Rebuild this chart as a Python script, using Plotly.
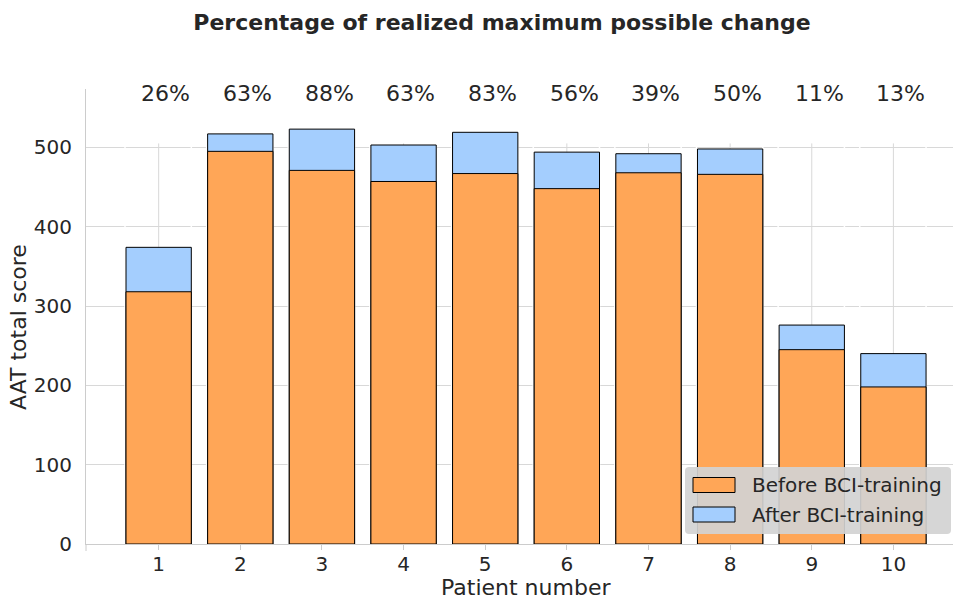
import plotly.graph_objects as go

# AAT total scores per patient, before and after BCI training
patients = [1, 2, 3, 4, 5, 6, 7, 8, 9, 10]
before_scores = [318, 495, 471, 457, 467, 448, 468, 466, 245, 198]
after_scores = [374, 517, 523, 503, 519, 494, 492, 498, 276, 240]
realized_change = ["26%", "63%", "88%", "63%", "83%", "56%", "39%", "50%", "11%", "13%"]

ORANGE = "#ffa657"
BLUE = "#a4cefe"
TEXT = "#262626"
GRID = "#d8d8d8"
SPINE = "#cccccc"
FONT = "DejaVu Sans"
BAR_WIDTH = 0.8

W, H = 953, 600
L, R, T, B = 86, 0, 89, 56
PW, PH = W - L - R, H - T - B


def px(x):
    return (x - L) / PW


def py(y):
    return (H - B - y) / PH


fig = go.Figure()
fig.add_trace(go.Bar(
    x=patients, y=after_scores, name="After BCI-training", width=BAR_WIDTH,
    marker=dict(color=BLUE, line=dict(color="black", width=1)),
))
fig.add_trace(go.Bar(
    x=patients, y=before_scores, name="Before BCI-training", width=BAR_WIDTH,
    marker=dict(color=ORANGE, line=dict(color="black", width=1)),
))

shapes = []
# vertical grid lines, stopping a little above the 500 line
for p in patients:
    shapes.append(dict(type="line", xref="x", yref="y", x0=p, x1=p, y0=0, y1=505,
                       line=dict(color=GRID, width=1), layer="between"))
# thin white bar-edge lines cutting through the horizontal grid
for p in patients:
    for edge in (p - BAR_WIDTH / 2 - 0.012, p + BAR_WIDTH / 2):
        shapes.append(dict(type="line", xref="x", yref="y", x0=edge, x1=edge, y0=0, y1=505,
                           line=dict(color="white", width=1.5), layer="between"))
# small extension of the left spine below the x axis
shapes.append(dict(type="line", xref="paper", yref="paper", x0=0, x1=0, y0=0, y1=-7 / PH,
                   line=dict(color=SPINE, width=1)))

# legend box with rounded corners
lx0, lx1, ly0, ly1 = 685, 951, 467, 534
hw, hh, r = (lx1 - lx0) / 2, (ly1 - ly0) / 2, 4
path = (f"M {-hw + r},{-hh} L {hw - r},{-hh} Q {hw},{-hh} {hw},{-hh + r} "
        f"L {hw},{hh - r} Q {hw},{hh} {hw - r},{hh} L {-hw + r},{hh} "
        f"Q {-hw},{hh} {-hw},{hh - r} L {-hw},{-hh + r} Q {-hw},{-hh} {-hw + r},{-hh} Z")
shapes.append(dict(type="path", xref="paper", yref="paper", xsizemode="pixel", ysizemode="pixel",
                   xanchor=px((lx0 + lx1) / 2), yanchor=py((ly0 + ly1) / 2), path=path,
                   fillcolor="rgba(211,211,211,0.92)", line=dict(width=0), layer="above"))
legend_items = [("Before BCI-training", ORANGE, 485), ("After BCI-training", BLUE, 514.5)]
annotations = []
for label, color, yc in legend_items:
    shapes.append(dict(type="rect", xref="paper", yref="paper",
                       x0=px(693), x1=px(735), y0=py(yc + 7.5), y1=py(yc - 7.5),
                       fillcolor=color, line=dict(color="black", width=1), layer="above"))
    annotations.append(dict(text=label, xref="paper", yref="paper", x=px(750), y=py(yc),
                            xanchor="left", yanchor="middle", showarrow=False,
                            font=dict(family=FONT, size=20, color=TEXT)))

# percentage of realized maximum possible change above each patient
for p, lab in zip(patients, realized_change):
    annotations.append(dict(text=lab, xref="x", yref="y", x=p - 0.235, y=568.5,
                            xanchor="left", yanchor="middle", showarrow=False,
                            font=dict(family=FONT, size=22, color=TEXT)))

annotations.append(dict(text="AAT total score", xref="paper", yref="paper",
                        x=px(18), y=py(327), textangle=-90, xanchor="center", yanchor="middle",
                        showarrow=False, font=dict(family=FONT, size=22, color=TEXT)))
annotations.append(dict(text="Patient number", xref="x", yref="paper", x=5.5, y=py(587),
                        xanchor="center", yanchor="middle", showarrow=False,
                        font=dict(family=FONT, size=22, color=TEXT)))

fig.update_layout(
    width=W, height=H,
    margin=dict(l=L, r=R, t=T, b=B),
    paper_bgcolor="white", plot_bgcolor="white",
    barmode="overlay", showlegend=False,
    title=dict(text="<b>Percentage of realized maximum possible change</b>",
               xref="container", yref="container", x=502 / W, y=1 - 22 / H,
               xanchor="center", yanchor="middle",
               font=dict(family=FONT, size=22, color=TEXT)),
    xaxis=dict(range=[0.11, 10.73], tickmode="array", tickvals=patients,
               ticktext=[str(p) for p in patients], showgrid=False, zeroline=False,
               showline=True, linecolor=SPINE, linewidth=1,
               ticks="outside", ticklen=5, tickcolor=SPINE, ticklabelstandoff=-3,
               tickfont=dict(family=FONT, size=20, color=TEXT)),
    yaxis=dict(range=[0, 573.6], tickvals=[0, 100, 200, 300, 400, 500],
               showgrid=True, gridcolor=GRID, gridwidth=1, zeroline=False,
               showline=True, linecolor=SPINE, linewidth=1,
               ticks="outside", ticklen=9, tickcolor="rgba(0,0,0,0)",
               tickfont=dict(family=FONT, size=20, color=TEXT)),
    shapes=shapes, annotations=annotations,
)

fig.write_html("out.html")
